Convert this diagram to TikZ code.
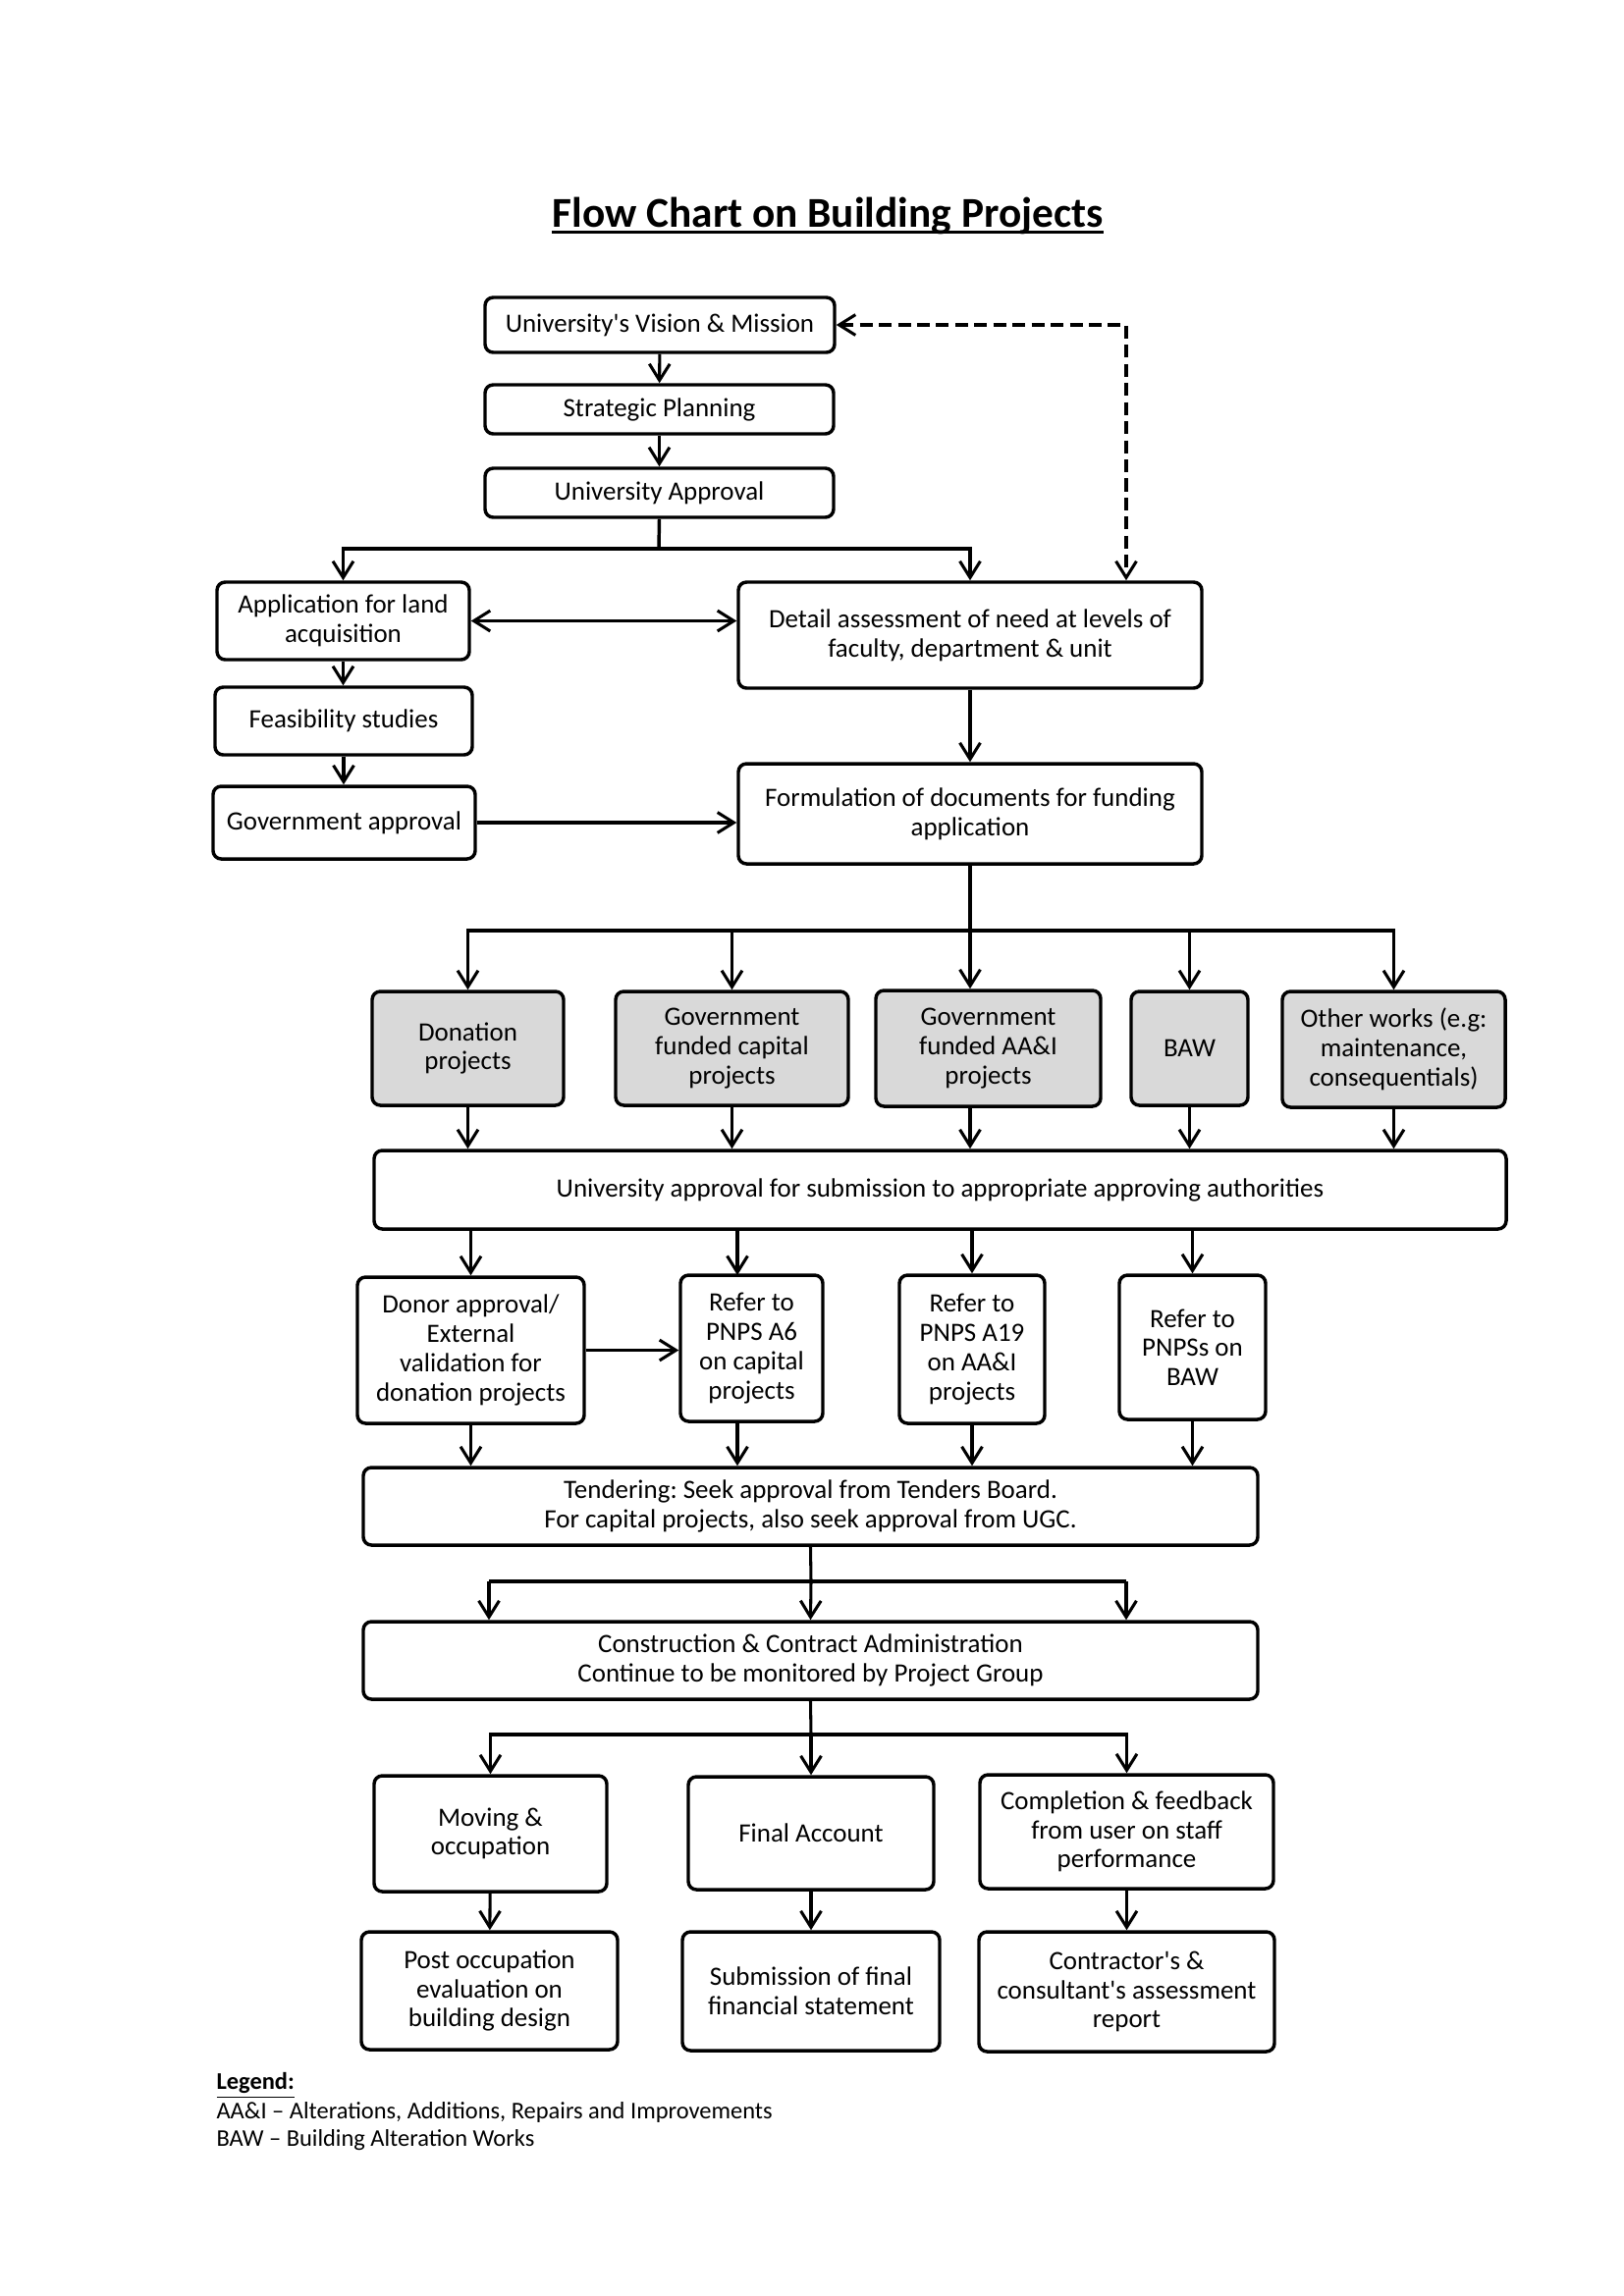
\documentclass[tikz,border=0pt]{standalone}
\usepackage{fontspec}
\setmainfont{Carlito}
\usetikzlibrary{arrows.meta,calc}
\definecolor{boxgray}{HTML}{D9D9D9}
\frenchspacing
\newcommand\bx[7]{%
  \node[#6, minimum width={(#4-#2)*0.35993pt}, minimum height={(#5-#3)*0.35993pt}] (#1) at ({(#2+#4)/2},{(#3+#5)/2}) {#7};}
\begin{document}
\begin{tikzpicture}[x=0.35993pt,y=-0.35993pt,
  box/.style={draw, line width=1.25pt, rounded corners=3pt, align=center, inner sep=1pt, font=\fontsize{9.7}{10.7}\selectfont},
  gbox/.style={box, fill=boxgray},
  arr/.style={line width=1.1pt, -{Straight Barb[length=6pt,width=7.5pt,line width=1.1pt]}},
  arrboth/.style={line width=1.3pt, {Straight Barb[length=6pt,width=7.5pt,line width=1.1pt]}-{Straight Barb[length=6pt,width=7.5pt,line width=1.1pt]}},
  ln/.style={line width=1.1pt},
  hln/.style={line width=1.25pt},
  dsh/.style={line width=1.3pt, dash pattern=on 4.7pt off 2.3pt, {Straight Barb[length=6pt,width=7.5pt,line width=1.1pt]}-{Straight Barb[length=6pt,width=7.5pt,line width=1.1pt]}}
]
\useasboundingbox (0,0) rectangle (1654,2339);
% title
\node[anchor=base, inner sep=0pt, font=\fontsize{15.6}{18}\selectfont\bfseries] (title) at (843,231) {Flow Chart on Building Projects};
\draw[line width=1.2pt] ([yshift=-2pt]title.base west) -- ([yshift=-2pt]title.base east);

% top chain
\bx{vis}{494}{303}{850}{359}{box}{University\textquotesingle s Vision \& Mission}
\bx{sp}{494}{392}{849}{442}{box}{Strategic Planning}
\bx{ua}{494}{477}{849}{527}{box}{University Approval}
\bx{app}{221}{593}{478}{672}{box}{Application for land\\acquisition}
\bx{feas}{219}{700}{481}{769}{box}{Feasibility studies}
\bx{gov}{217}{801}{484}{875}{box}{Government approval}
\bx{det}{752}{593}{1224}{701}{box}{Detail assessment of need at levels of\\faculty, department \& unit}
\bx{form}{752}{778}{1224}{880}{box}{Formulation of documents for funding\\application}

% gray row
\bx{don}{379}{1010}{574}{1126}{gbox}{Donation\\projects}
\bx{gcap}{627}{1010}{864}{1126}{gbox}{Government\\funded capital\\projects}
\bx{gaai}{892}{1009}{1121}{1127}{gbox}{Government\\funded AA\&I\\projects}
\bx{baw}{1152}{1010}{1271}{1126}{gbox}{BAW}
\bx{oth}{1306}{1010}{1533}{1128}{gbox}{Other works (e.g:\\maintenance,\\consequentials)}

\bx{uaa}{381}{1172}{1534}{1252}{box}{University approval for submission to appropriate approving authorities}

\bx{donor}{364}{1301}{595}{1450}{box}{Donor approval/\\External\\validation for\\donation projects}
\bx{a6}{693}{1299}{838}{1448}{box}{Refer to\\PNPS A6\\on capital\\projects}
\bx{a19}{916}{1299}{1064}{1450}{box}{Refer to\\PNPS A19\\on AA\&I\\projects}
\bx{bawr}{1140}{1299}{1289}{1446}{box}{Refer to\\PNPSs on\\BAW}

\bx{tend}{370}{1495}{1281}{1574}{box}{Tendering: Seek approval from Tenders Board.\\For capital projects, also seek approval from UGC.}
\bx{cons}{370}{1652}{1281}{1731}{box}{Construction \& Contract Administration\\Continue to be monitored by Project Group}

\bx{mov}{381}{1809}{618}{1927}{box}{Moving \&\\occupation}
\bx{fin}{701}{1810}{951}{1925}{box}{Final Account}
\bx{comp}{998}{1808}{1297}{1924}{box}{Completion \& feedback\\from user on staff\\performance}
\bx{post}{368}{1968}{629}{2088}{box}{Post occupation\\evaluation on\\building design}
\bx{sub}{695}{1968}{957}{2089}{box}{Submission of final\\financial statement}
\bx{contr}{997}{1968}{1298}{2090}{box}{Contractor\textquotesingle s \&\\consultant\textquotesingle s assessment\\report}

% legend
\node[anchor=base west, inner sep=0pt, font=\fontsize{8.8}{10}\selectfont\bfseries] (leg) at (220,2128) {\underline{Legend:}};
\node[anchor=base west, inner sep=0pt, font=\fontsize{8.8}{10}\selectfont] (leg1) at (220,2158) {AA\&I -- Alterations, Additions, Repairs and Improvements};
\node[anchor=base west, inner sep=0pt, font=\fontsize{8.8}{10}\selectfont] (leg2) at (220,2186) {BAW -- Building Alteration Works};

% connectors top
\draw[arr] (vis) -- (sp);
\draw[arr] (sp) -- (ua);
\coordinate (j1) at (671,559);
\draw[hln] (ua.south) -- (j1);
\draw[arr, line width=1.25pt] (j1) -| (app.north);
\draw[arr, line width=1.25pt] (j1) -| (det.north);
\coordinate (dc) at (1147,331);
\draw[dsh] (vis.east) -| (dc |- det.north);
\draw[arrboth] (app.east) -- (app.east -| det.west);
\draw[arr] (app.south) -- (app.south |- feas.north);
\draw[arr] (feas.south) -- (feas.south |- gov.north);
\draw[arr] (det) -- (form);
\draw[arr, line width=1.3pt] (gov.east) -- (gov.east -| form.west);

% branch to funding types
\coordinate (j2) at (988,948);
\draw[ln] (form.south) -- (j2);
\draw[arr, line width=1.25pt] (j2) -| (don.north);
\draw[arr, line width=1.25pt] (j2) -| (gcap.north);
\draw[arr] (j2) -- (j2 |- gaai.north);
\draw[arr, line width=1.25pt] (j2) -| (baw.north);
\draw[arr, line width=1.25pt] (j2) -| (oth.north);

\draw[arr] (don.south) -- (don.south |- uaa.north);
\draw[arr] (gcap.south) -- (gcap.south |- uaa.north);
\draw[arr] (j2 |- gaai.south) -- (j2 |- uaa.north);
\draw[arr] (baw.south) -- (baw.south |- uaa.north);
\draw[arr] (oth.south) -- (oth.south |- uaa.north);

% to referral row
\coordinate (a6x) at (751,1299);
\draw[arr] (uaa.south -| donor.north) -- (donor.north);
\draw[arr] (uaa.south -| a6x) -- (a6x);
\draw[arr] (uaa.south -| a19.north) -- (a19.north);
\draw[arr] (uaa.south -| bawr.north) -- (bawr.north);
\draw[arr, line width=1.3pt] (donor.east) -- (donor.east -| a6.west);

\draw[arr] (donor.south) -- (donor.south |- tend.north);
\draw[arr] (a6x |- a6.south) -- (a6x |- tend.north);
\draw[arr] (a19.south) -- (a19.south |- tend.north);
\draw[arr] (bawr.south) -- (bawr.south |- tend.north);

% to construction
\coordinate (j3) at (826,1611);
\coordinate (k1) at (498,1611);
\coordinate (k2) at (1147,1611);
\draw[ln] (tend.south) -- (j3);
\draw[hln] (k1) -- (k2);
\draw[arr] (k1) -- (k1 |- cons.north);
\draw[arr] (j3) -- (cons.north);
\draw[arr] (k2) -- (k2 |- cons.north);

% to final row
\coordinate (j4) at (826,1767);
\draw[ln] (cons.south) -- (j4);
\draw[arr, line width=1.25pt] (j4) -| (mov.north);
\draw[arr] (j4) -- (fin.north);
\draw[arr, line width=1.25pt] (j4) -| (comp.north);
\draw[arr] (mov) -- (post);
\draw[arr] (fin) -- (sub);
\draw[arr] (comp) -- (contr);
\end{tikzpicture}
\end{document}
